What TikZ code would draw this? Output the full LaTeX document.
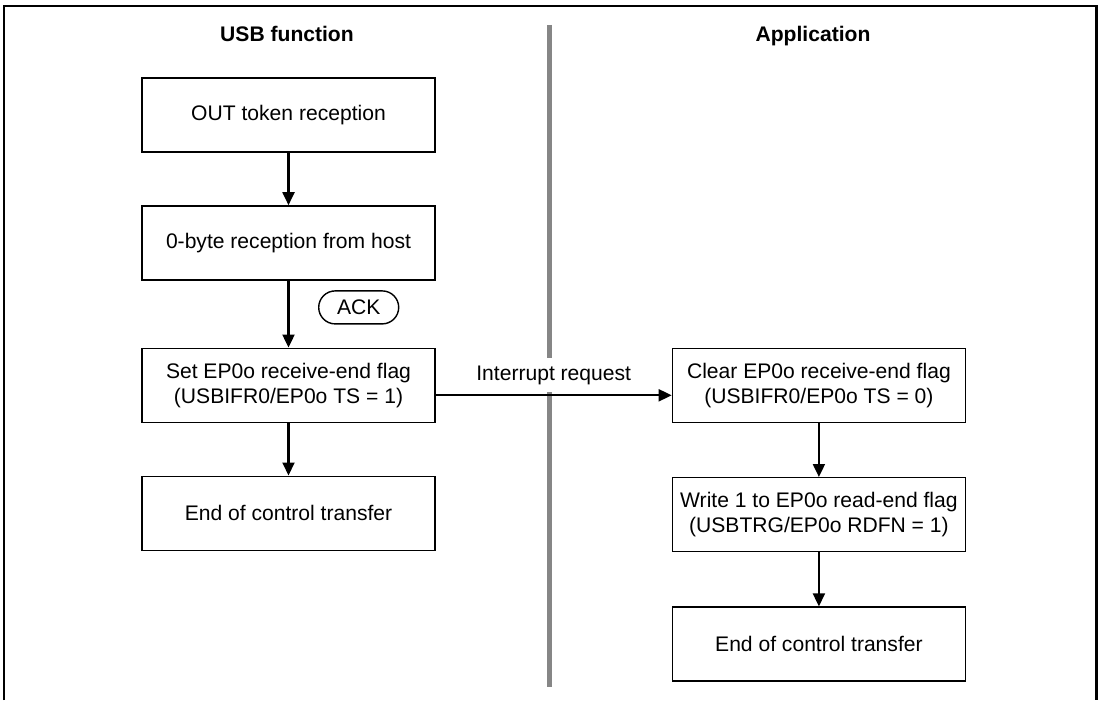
\documentclass[tikz,border=0pt]{standalone}
\usepackage{fontspec}
\setmainfont{Liberation Sans}
\usepackage{xcolor}
\usepackage{tikz}
\usetikzlibrary{arrows.meta, positioning}
\definecolor{dividerColor}{HTML}{868686}

\begin{document}
\begin{tikzpicture}[
    node distance=1.05cm and 4.72cm,
    base/.style={font=\fontsize{12}{14.2}\selectfont, align=center},
    proc/.style={base, rectangle, draw, line width=0.8pt, minimum width=5.86cm, minimum height=1.48cm, inner sep=2pt},
    title/.style={base, font=\fontsize{12}{14.2}\selectfont\bfseries, anchor=base},
    ackbox/.style={base, draw, line width=0.8pt, rounded corners=0.33cm, minimum width=1.6cm, minimum height=0.66cm, inner sep=1pt},
    flow/.style={-{Triangle[length=7.4pt, width=6.8pt]}, line width=1.2pt},
    labelStyle/.style={base, fill=white, inner xsep=2pt, inner ysep=0.15cm}
]

\useasboundingbox (0,0) rectangle (21.98,14);

\draw[line width=1.2pt] (0.086,0) -- (0.086,13.88) -- (21.93,13.88) -- (21.93,0);

\coordinate (divTop) at (10.99,13.5);
\coordinate (divBot) at (10.99,0.26);
\draw[dividerColor, line width=2.8pt] (divTop) -- (divBot);

\node[title] (usbTitle) at (5.74,13.16) {USB function};
\node[title] (appTitle) at (16.26,13.16) {Application};

\node[proc] (out) at (5.77,11.70) {OUT token reception};
\node[proc, below=of out] (zero) {0-byte reception from host};
\node[proc, below=1.34cm of zero] (setflag) {Set EP0o receive-end flag\\(USBIFR0/EP0o TS = 1)};
\node[proc, below=of setflag] (endL) {End of control transfer};

\node[proc, right=of setflag] (clear) {Clear EP0o receive-end flag\\(USBIFR0/EP0o TS = 0)};
\node[proc, below=1.08cm of clear] (write) {Write 1 to EP0o read-end flag\\(USBTRG/EP0o RDFN = 1)};
\node[proc, below=1.08cm of write] (endR) {End of control transfer};

\draw[flow] (out) -- (zero);
\draw[flow] (zero) -- (setflag) node[ackbox, pos=0.4, right=0.59cm] (ack) {ACK};
\draw[flow] (setflag) -- (endL);
\draw[flow] ([yshift=-0.2cm]setflag.east) -- node[labelStyle, above=0.04cm] (irq) {Interrupt request} ([yshift=-0.2cm]clear.west);
\draw[flow] (clear) -- (write);
\draw[flow] (write) -- (endR);

\end{tikzpicture}
\end{document}
